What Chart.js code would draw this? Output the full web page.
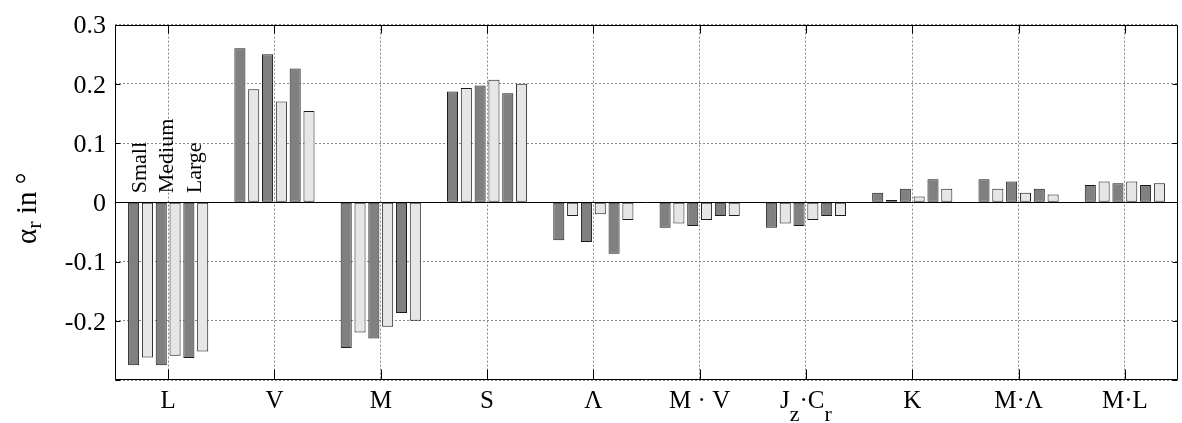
<!DOCTYPE html>
<html>
<head>
<meta charset="utf-8">
<script src="https://cdn.jsdelivr.net/npm/chart.js@4.4.1/dist/chart.umd.min.js"></script>
<style>
  html, body { margin: 0; padding: 0; background: #fff; }
  #wrap { width: 1182px; height: 423px; }
</style>
</head>
<body>
<div id="wrap"><canvas id="c" width="1182" height="423"></canvas></div>
<script>
// ---------- data ----------
const categories = ['L', 'V', 'M', 'S', 'Λ', 'M · V', 'J_z·C_r', 'K', 'M·Λ', 'M·L'];
const sizeLabels = ['Small', 'Medium', 'Large'];
const yTitle = 'α_r in °';
const yTickValues = [-0.3, -0.2, -0.1, 0, 0.1, 0.2, 0.3];
const yTickLabels = ['', '-0.2', '-0.1', '0', '0.1', '0.2', '0.3'];

const smallDark   = [-0.275, 0.260, -0.246, 0.187, -0.064, -0.043, -0.043, 0.016, 0.039, 0.029];
const smallLight  = [-0.262, 0.191, -0.220, 0.193, -0.023, -0.036, -0.036, 0.004, 0.023, 0.035];
const mediumDark  = [-0.275, 0.250, -0.230, 0.197, -0.067, -0.040, -0.040, 0.023, 0.035, 0.032];
const mediumLight = [-0.259, 0.170, -0.210, 0.207, -0.020, -0.030, -0.030, 0.010, 0.016, 0.035];
const largeDark   = [-0.263, 0.226, -0.187, 0.184, -0.087, -0.023, -0.023, 0.039, 0.023, 0.029];
const largeLight  = [-0.252, 0.154, -0.200, 0.200, -0.030, -0.023, -0.023, 0.023, 0.013, 0.032];

// ---------- styles ----------
const DARK = '#808080', LIGHT = '#e6e6e6', EDGE = '#1a1a1a';
const SERIF = '"Liberation Serif", "Times New Roman", serif';

function ds(label, data, color) {
  return {
    label, data,
    backgroundColor: color,
    borderColor: EDGE,
    borderWidth: 1,
    borderSkipped: false,
    categoryPercentage: 0.78,
    barPercentage: 0.8
  };
}

function parseParts(str) {
  const parts = [];
  let buf = '';
  for (let i = 0; i < str.length; i++) {
    if (str[i] === '_' && i + 1 < str.length) {
      if (buf) { parts.push({ t: buf, sub: false }); buf = ''; }
      parts.push({ t: str[i + 1], sub: true });
      i++;
    } else {
      buf += str[i];
    }
  }
  if (buf) parts.push({ t: buf, sub: false });
  return parts;
}

function drawRich(ctx, str, cx, baseY, mainSize, subSize, subShift) {
  const parts = parseParts(str);
  let total = 0;
  parts.forEach(p => {
    ctx.font = (p.sub ? subSize : mainSize) + 'px ' + SERIF;
    p.w = ctx.measureText(p.t).width;
    total += p.w;
  });
  let x = cx - total / 2;
  ctx.textAlign = 'left';
  ctx.textBaseline = 'alphabetic';
  parts.forEach(p => {
    ctx.font = (p.sub ? subSize : mainSize) + 'px ' + SERIF;
    ctx.fillText(p.t, x, baseY + (p.sub ? subShift : 0));
    x += p.w;
  });
}

const decor = {
  id: 'decor',
  afterDatasetsDraw(chart) {
    const { ctx, chartArea: a, scales: { y } } = chart;
    const y0 = Math.round(y.getPixelForValue(0)) + 0.5;
    ctx.save();
    ctx.strokeStyle = '#000';
    ctx.lineWidth = 1;
    ctx.beginPath();
    ctx.moveTo(a.left, y0);
    ctx.lineTo(a.right, y0);
    ctx.stroke();
    ctx.restore();
  },
  afterDraw(chart) {
    const { ctx, chartArea: a, scales: { x, y } } = chart;
    ctx.save();
    ctx.strokeStyle = '#000';
    ctx.lineWidth = 1;
    const L = Math.round(a.left) + 0.5, R = Math.round(a.right) - 0.5;
    const T = Math.round(a.top) + 0.5, B = Math.round(a.bottom) - 0.5;
    // box
    ctx.beginPath();
    ctx.rect(L, T, R - L, B - T);
    ctx.stroke();
    // inward ticks
    ctx.beginPath();
    y.ticks.forEach(t => {
      const py = Math.round(y.getPixelForValue(t.value)) + 0.5;
      ctx.moveTo(L, py); ctx.lineTo(L + 5, py);
      ctx.moveTo(R, py); ctx.lineTo(R - 5, py);
    });
    categories.forEach((c, i) => {
      const px = Math.round(x.getPixelForValue(i)) + 0.5;
      ctx.moveTo(px, B); ctx.lineTo(px, B - 10);
      ctx.moveTo(px, T); ctx.lineTo(px, T + 8);
    });
    ctx.stroke();

    // category labels
    ctx.fillStyle = '#000';
    categories.forEach((c, i) => {
      drawRich(ctx, c, x.getPixelForValue(i), a.bottom + 28, 25, 22, 13);
    });

    // y axis title (rotated)
    ctx.save();
    ctx.translate(36, (a.top + a.bottom) / 2 + 6);
    ctx.rotate(-Math.PI / 2);
    drawRich(ctx, yTitle, 0, 0, 29, 22, 5);
    ctx.restore();

    // Small / Medium / Large labels above the first group
    const yz = y.getPixelForValue(0);
    ctx.font = '22px ' + SERIF;
    sizeLabels.forEach((s, k) => {
      const m1 = chart.getDatasetMeta(2 * k).data[0];
      const m2 = chart.getDatasetMeta(2 * k + 1).data[0];
      const cx = (m1.x + m2.x) / 2 + 5;
      ctx.save();
      ctx.translate(cx, yz - 9);
      ctx.rotate(-Math.PI / 2);
      ctx.textAlign = 'left';
      ctx.textBaseline = 'alphabetic';
      ctx.fillText(s, 0, 0);
      ctx.restore();
    });
    ctx.restore();
  }
};

new Chart(document.getElementById('c'), {
  type: 'bar',
  data: {
    labels: categories,
    datasets: [
      ds('Small (dark)', smallDark, DARK),
      ds('Small (light)', smallLight, LIGHT),
      ds('Medium (dark)', mediumDark, DARK),
      ds('Medium (light)', mediumLight, LIGHT),
      ds('Large (dark)', largeDark, DARK),
      ds('Large (light)', largeLight, LIGHT)
    ]
  },
  options: {
    responsive: false,
    devicePixelRatio: 1,
    animation: false,
    layout: { padding: { top: 17, right: 4, left: 0, bottom: 0 } },
    plugins: { legend: { display: false }, tooltip: { enabled: false } },
    scales: {
      x: {
        offset: true,
        grid: {
          display: true, offset: false, drawTicks: false,
          color: '#8a8a8a', lineWidth: 1
        },
        border: { display: false, dash: [2, 2] },
        ticks: { display: false },
        afterFit(s) { s.height = 43; }
      },
      y: {
        min: -0.3, max: 0.3,
        afterBuildTicks(s) { s.ticks = yTickValues.map(v => ({ value: v })); },
        grid: {
          drawTicks: false,
          lineWidth: 1,
          color: ctx => (ctx.tick && Math.abs(ctx.tick.value) < 1e-9) ? 'rgba(0,0,0,0)' : '#8a8a8a'
        },
        border: { display: false, dash: [2, 2] },
        ticks: {
          padding: 9,
          labelOffset: 2,
          color: '#000',
          font: { family: SERIF, size: 26 },
          callback: (v, i) => yTickLabels[yTickValues.findIndex(t => Math.abs(t - v) < 1e-9)]
        },
        afterFit(s) { s.width = 115; }
      }
    }
  },
  plugins: [decor]
});
</script>
</body>
</html>
